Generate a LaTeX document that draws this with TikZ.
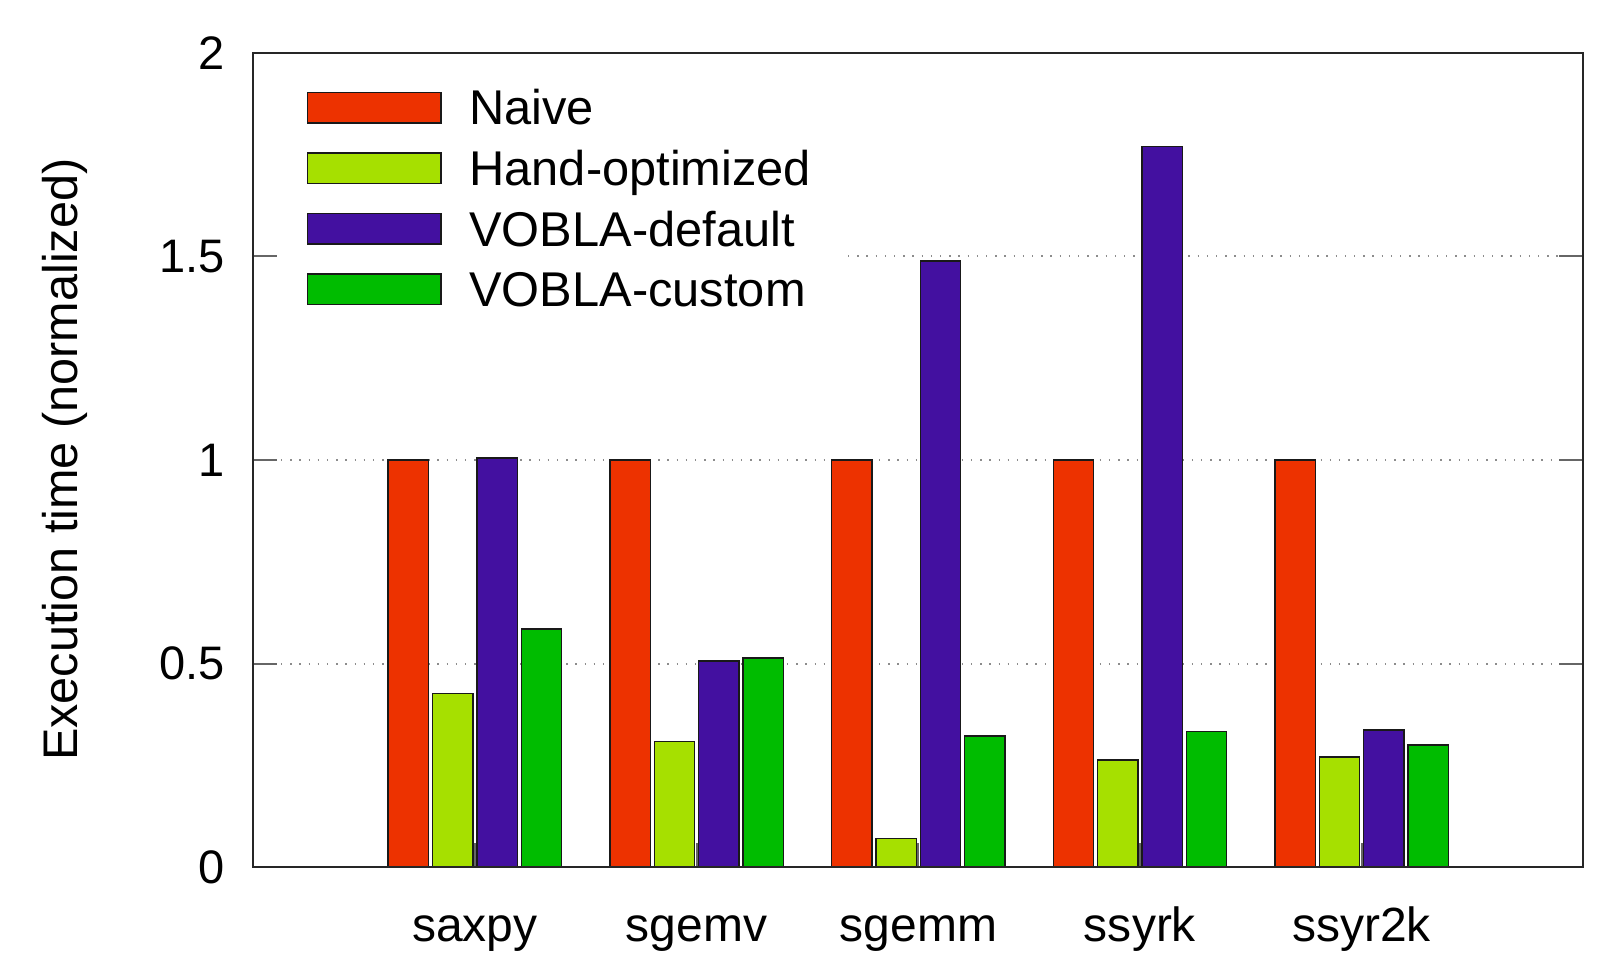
\documentclass[tikz,border=0pt]{standalone}
\usepackage{fontspec}
\setmainfont{Liberation Sans}

\definecolor{naive}{RGB}{237,50,0}
\definecolor{handopt}{RGB}{166,224,0}
\definecolor{vobladef}{RGB}{67,16,160}
\definecolor{voblacus}{RGB}{0,188,0}

\tikzset{
  frame/.style={line width=1pt, draw=black!85},
  bar/.style={line width=0.8pt, draw=black!90},
  gridline/.style={line width=1pt, draw=black!45, dash pattern=on 0.7pt off 3.9pt},
  tickmark/.style={line width=1pt, draw=black!60},
  ticklabel/.style={inner sep=0pt, font=\fontsize{23.5pt}{28pt}\selectfont},
  namelabel/.style={inner sep=0pt, anchor=base, font=\fontsize{24pt}{29pt}\selectfont},
  keylabel/.style={inner sep=0pt, anchor=base west, font=\fontsize{24.4pt}{29pt}\selectfont}
}

\begin{document}
\begin{tikzpicture}[x=110.83pt, y=203.63pt]
	\useasboundingbox (-1.1427, -0.2082) rectangle (6.0888, 2.1294);

	% grid (the key box hides the left part of the 1.5 line)
	\draw[gridline]	(0, 0.5) -- (6, 0.5);
	\draw[gridline]	(0, 1) -- (6, 1);
	\draw[gridline]	(2.683, 1.5) -- (6, 1.5);

	% ticks, left and right
	\draw[tickmark]	(0, 0.5) -- (0.108, 0.5);
	\draw[tickmark]	(0, 1) -- (0.108, 1);
	\draw[tickmark]	(0, 1.5) -- (0.108, 1.5);
	\draw[tickmark]	(6, 0.5) -- (5.892, 0.5);
	\draw[tickmark]	(6, 1) -- (5.892, 1);
	\draw[tickmark]	(6, 1.5) -- (5.892, 1.5);
	% ticks at the groups
	\draw[tickmark]	(1, 0) -- (1, 0.059);
	\draw[tickmark]	(2, 0) -- (2, 0.059);
	\draw[tickmark]	(3, 0) -- (3, 0.059);
	\draw[tickmark]	(4, 0) -- (4, 0.059);
	\draw[tickmark]	(5, 0) -- (5, 0.059);

	% saxpy
	\draw[bar, fill=naive]   	(0.609, 0) rectangle (0.791, 1);
	\draw[bar, fill=handopt] 	(0.809, 0) rectangle (0.991, 0.427);
	\draw[bar, fill=vobladef]	(1.009, 0) rectangle (1.191, 1.005);
	\draw[bar, fill=voblacus]	(1.209, 0) rectangle (1.391, 0.585);
	% sgemv
	\draw[bar, fill=naive]   	(1.609, 0) rectangle (1.791, 1);
	\draw[bar, fill=handopt] 	(1.809, 0) rectangle (1.991, 0.309);
	\draw[bar, fill=vobladef]	(2.009, 0) rectangle (2.191, 0.507);
	\draw[bar, fill=voblacus]	(2.209, 0) rectangle (2.391, 0.514);
	% sgemm
	\draw[bar, fill=naive]   	(2.609, 0) rectangle (2.791, 1);
	\draw[bar, fill=handopt] 	(2.809, 0) rectangle (2.991, 0.071);
	\draw[bar, fill=vobladef]	(3.009, 0) rectangle (3.191, 1.489);
	\draw[bar, fill=voblacus]	(3.209, 0) rectangle (3.391, 0.323);
	% ssyrk
	\draw[bar, fill=naive]   	(3.609, 0) rectangle (3.791, 1);
	\draw[bar, fill=handopt] 	(3.809, 0) rectangle (3.991, 0.264);
	\draw[bar, fill=vobladef]	(4.009, 0) rectangle (4.191, 1.770);
	\draw[bar, fill=voblacus]	(4.209, 0) rectangle (4.391, 0.333);
	% ssyr2k
	\draw[bar, fill=naive]   	(4.609, 0) rectangle (4.791, 1);
	\draw[bar, fill=handopt] 	(4.809, 0) rectangle (4.991, 0.271);
	\draw[bar, fill=vobladef]	(5.009, 0) rectangle (5.191, 0.337);
	\draw[bar, fill=voblacus]	(5.209, 0) rectangle (5.391, 0.300);

	\draw[frame]	(0, 0) rectangle (6, 2);

	% key
	\draw[bar, fill=naive]   	(0.2436, 1.8275) rectangle (0.848, 1.9025);
	\draw[bar, fill=handopt] 	(0.2436, 1.6789) rectangle (0.848, 1.7539);
	\draw[bar, fill=vobladef]	(0.2436, 1.5303) rectangle (0.848, 1.6053);
	\draw[bar, fill=voblacus]	(0.2436, 1.3818) rectangle (0.848, 1.4568);
	\node[keylabel] (keynaive)  at (0.973, 1.8225) {Naive};
	\node[keylabel] (keyhand)   at (0.973, 1.6739) {Hand-optimized};
	\node[keylabel] (keydef)    at (0.973, 1.5253) {VOBLA-default};
	\node[keylabel] (keycustom) at (0.973, 1.3768) {VOBLA-custom};

	% y axis
	\node[ticklabel, anchor=east] (ylab0)   at (-0.127, 0) {0};
	\node[ticklabel, anchor=east] (ylab05)  at (-0.127, 0.5) {0.5};
	\node[ticklabel, anchor=east] (ylab1)   at (-0.127, 1) {1};
	\node[ticklabel, anchor=east] (ylab15)  at (-0.127, 1.5) {1.5};
	\node[ticklabel, anchor=east] (ylab2)   at (-0.127, 2) {2};
	\node[inner sep=0pt, anchor=base, rotate=90, font=\fontsize{24.3pt}{29pt}\selectfont] (ytitle) at (-0.794, 1.001) {Execution time (normalized)};

	% x axis
	\node[namelabel] (xsaxpy)  at (1, -0.183) {saxpy};
	\node[namelabel] (xsgemv)  at (2, -0.183) {sgemv};
	\node[namelabel] (xsgemm)  at (3, -0.183) {sgemm};
	\node[namelabel] (xssyrk)  at (4, -0.183) {ssyrk};
	\node[namelabel] (xssyrtk) at (5, -0.183) {ssyr2k};
\end{tikzpicture}
\end{document}
